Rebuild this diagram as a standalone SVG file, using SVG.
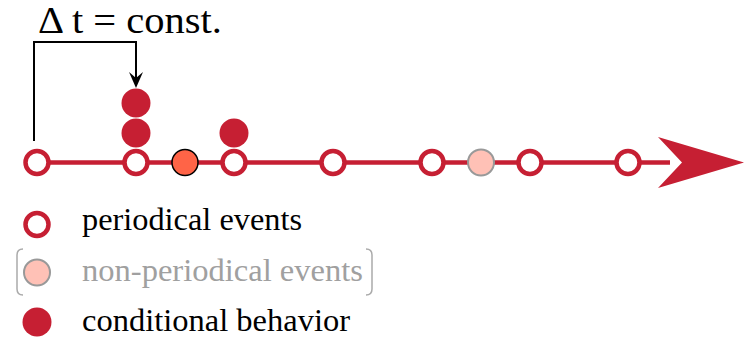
<svg xmlns="http://www.w3.org/2000/svg" width="749" height="337" viewBox="0 0 749 337">
<style>
.per{fill:#fff;stroke:#C61F33;stroke-width:4.5}
.cond{fill:#C61F33}
.npe{fill:#FFC1B6;stroke:#999;stroke-width:2}
</style>
<g id="connectors">
<line x1="30" y1="162.5" x2="670" y2="162.5" stroke="#C61F33" stroke-width="4.5"/>
<polygon points="658,137 744,162.5 658,188 682,162.5" fill="#C61F33"/>
<path d="M34 141 V42 H136 V80" fill="none" stroke="#000" stroke-width="2"/>
<polygon points="129,72 136,88 143,72 136,78" fill="#000"/>
</g>
<g id="title"><text x="38" y="33" font-family="Liberation Serif, serif" font-size="38" fill="#000" textLength="184" lengthAdjust="spacingAndGlyphs">Δ t = const.</text></g>
<g id="e1"><circle class="per" cx="37" cy="162.5" r="11.5"/></g>
<g id="e2"><circle class="per" cx="136" cy="162.5" r="11.5"/></g>
<g id="c1"><circle class="cond" cx="136" cy="133" r="14.5"/></g>
<g id="c2"><circle class="cond" cx="136" cy="103" r="14.5"/></g>
<g id="o1"><circle cx="185" cy="162.5" r="13" fill="#FF6447" stroke="#000" stroke-width="1.5"/></g>
<g id="e3"><circle class="per" cx="234" cy="162.5" r="11.5"/></g>
<g id="c3"><circle class="cond" cx="234" cy="133" r="14.5"/></g>
<g id="e4"><circle class="per" cx="333" cy="162.5" r="11.5"/></g>
<g id="e5"><circle class="per" cx="432" cy="162.5" r="11.5"/></g>
<g id="n1"><circle class="npe" cx="481" cy="162.5" r="13"/></g>
<g id="e6"><circle class="per" cx="530" cy="162.5" r="11.5"/></g>
<g id="e7"><circle class="per" cx="628" cy="162.5" r="11.5"/></g>
<g id="legend-periodical">
<circle class="per" cx="37" cy="224.5" r="11.5"/>
<text x="82" y="230" font-family="Liberation Serif, serif" font-size="32" fill="#000" textLength="220" lengthAdjust="spacingAndGlyphs">periodical events</text>
</g>
<g id="legend-nonperiodical">
<path d="M23 249 Q17 249 17 255 V289 Q17 295 23 295" fill="none" stroke="#AAA" stroke-width="1.5"/>
<path d="M366 249 Q372 249 372 255 V289 Q372 295 366 295" fill="none" stroke="#AAA" stroke-width="1.5"/>
<circle class="npe" cx="37" cy="272.5" r="13"/>
<text x="82" y="281" font-family="Liberation Serif, serif" font-size="32" fill="#A0A0A0" textLength="281" lengthAdjust="spacingAndGlyphs">non-periodical events</text>
</g>
<g id="legend-conditional">
<circle class="cond" cx="37" cy="322" r="14.5"/>
<text x="82" y="331" font-family="Liberation Serif, serif" font-size="32" fill="#000" textLength="268" lengthAdjust="spacingAndGlyphs">conditional behavior</text>
</g>
</svg>
